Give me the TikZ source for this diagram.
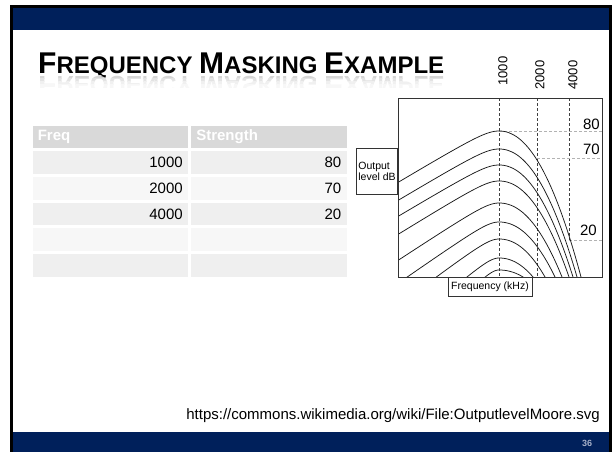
\documentclass[tikz,border=0pt]{standalone}
\usepackage{fontspec}
\setmainfont{Liberation Sans}
\usetikzlibrary{positioning}

\definecolor{slidenavy}{RGB}{0,32,91}
\definecolor{headgray}{RGB}{217,217,217}
\definecolor{rowdark}{RGB}{239,239,239}
\definecolor{rowlight}{RGB}{247,247,247}
\definecolor{pagenum}{RGB}{165,175,200}

\newcommand\px[1]{\fontsize{#1}{#1}\selectfont}
\newcommand\titletext{\bfseries\px{30}F\px{24}REQUENCY \px{30}M\px{24}ASKING \px{30}E\px{24}XAMPLE}
\newcommand\maskcurve[3]{%
  \draw[curve] plot[domain=-110:0, samples=70] ({499+\x},{#1-10+sqrt((#2*\x)^2+100)})
    -- plot[domain=0.1:110, samples=80] ({499+\x},{#1+(277-#1)*pow(\x/#3,2.1)});}
\newcommand\mirrorband[3]{%
  \begin{scope}
    \clip (30,#1) rectangle (450,#2);
    \node[anchor=base west, inner sep=0pt, yscale=-1, text=black!#3] at (38,76) {\titletext};
  \end{scope}}

\begin{document}
\begin{tikzpicture}[
        x=1pt, y=-1pt,
        cell/.style={draw=white, line width=1.5pt, minimum width=157pt, minimum height=24.2pt,
            inner sep=0pt, text width=145pt, font=\px{15}},
        headcell/.style={cell, fill=headgray, text=white, font=\bfseries\px{15}, align=left},
        rowa/.style={cell, fill=rowdark, align=right},
        rowb/.style={cell, fill=rowlight, align=right},
        vgrid/.style={dashed, dash pattern=on 3pt off 2pt, black!75, line width=0.6pt},
        hgrid/.style={dashed, dash pattern=on 3pt off 2pt, black!30, line width=0.6pt},
        curve/.style={line width=0.75pt, black!90},
        axisbox/.style={draw=black!80, line width=0.6pt, fill=white, font=\px{10.5}, inner sep=2pt}
    ]
    \useasboundingbox (0,0) rectangle (612,452);
    \fill[white] (0,0) rectangle (612,452);
    \fill[black] (10,5) rectangle (612,452);
    \fill[white] (13,8) rectangle (609,452);
    \fill[slidenavy] (13,8) rectangle (609,30);
    \fill[slidenavy] (13,432) rectangle (609,452);

    \node[anchor=base west, inner sep=0pt] (title) at (38,74) {\titletext};
    \mirrorband{75}{78}{16}
    \mirrorband{78}{81}{11}
    \mirrorband{81}{84}{6}
    \mirrorband{84}{87}{3}

    \node[headcell, anchor=north west] (freq) at (31,124) {Freq};
    \node[headcell, right=0pt of freq] (strength) {Strength};
    \node[rowa, below=0pt of freq] (f1) {1000};
    \node[rowa, below=0pt of strength] (s1) {80};
    \node[rowb, below=0pt of f1] (f2) {2000};
    \node[rowb, below=0pt of s1] (s2) {70};
    \node[rowa, below=0pt of f2] (f3) {4000};
    \node[rowa, below=0pt of s2] (s3) {20};
    \node[rowb, below=0pt of f3] (f4) {};
    \node[rowb, below=0pt of s3] (s4) {};
    \node[rowa, below=0pt of f4] (f5) {};
    \node[rowa, below=0pt of s4] (s5) {};

    \draw[vgrid] (499,98) -- (499,277);
    \draw[vgrid] (537,98) -- (537,277);
    \draw[vgrid] (569,98) -- (569,240);
    \draw[hgrid] (499,131) -- (602,131);
    \draw[hgrid] (537,158) -- (602,158);
    \draw[hgrid] (569,240) -- (602,240);

    \begin{scope}
        \clip (398,98) rectangle (602,277);
        \maskcurve{131}{0.6}{82}
        \maskcurve{149}{0.6}{78}
        \maskcurve{165}{0.6}{74}
        \maskcurve{181}{0.62}{70}
        \maskcurve{203}{0.66}{63}
        \maskcurve{222}{0.7}{56}
        \maskcurve{239}{0.75}{46}
        \maskcurve{258}{0.85}{34}
        \maskcurve{270}{1.0}{24}
    \end{scope}
    \draw[black!80, line width=0.7pt] (398,98) rectangle (602,277);

    \node[rotate=90, anchor=west, font=\px{13}] (k1) at (503,89) {1000};
    \node[rotate=90, anchor=west, font=\px{13}] (k2) at (540,93) {2000};
    \node[rotate=90, anchor=west, font=\px{13}] (k4) at (573,93) {4000};
    \node[anchor=east, font=\px{15}, inner sep=1pt] (db80) at (601,124) {80};
    \node[anchor=east, font=\px{15}, inner sep=1pt] (db70) at (601,149) {70};
    \node[anchor=east, font=\px{15}, inner sep=1pt] (db20) at (598,230) {20};

    \node[axisbox, anchor=north east, minimum width=41pt, minimum height=46pt, align=left] (level) at (398,148) {Output\\level dB};
    \node[axisbox, anchor=north, minimum width=84pt, minimum height=19pt] (kHz) at (490,277) {Frequency (kHz)};

    \node[anchor=base east, font=\px{15}, inner sep=0pt] (source) at (600,419) {https://commons.wikimedia.org/wiki/File:OutputlevelMoore.svg};
    \node[font=\bfseries\px{9}, text=pagenum, inner sep=0pt] (page) at (587,443) {36};
\end{tikzpicture}
\end{document}
